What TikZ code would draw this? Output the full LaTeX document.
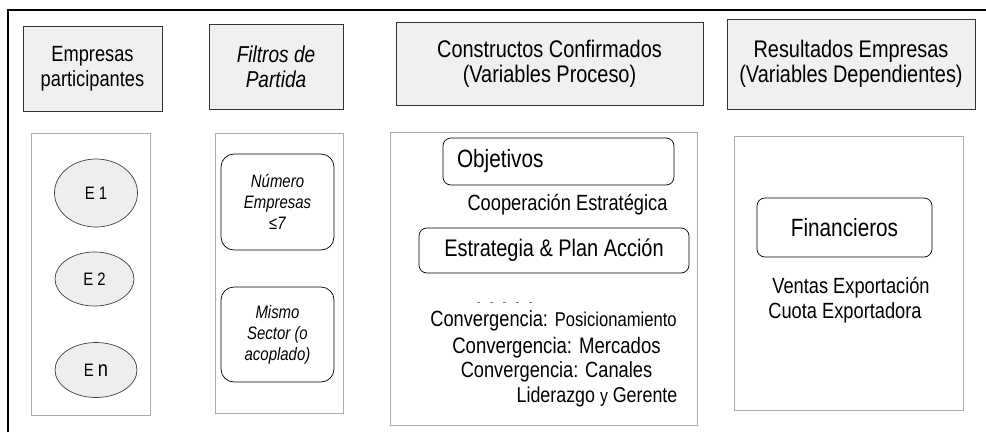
\documentclass[tikz,border=0pt]{standalone}
\usepackage{fontspec}
\setmainfont{Liberation Sans}[FakeStretch=0.83]
\usetikzlibrary{shapes.geometric}

\newcommand{\fsz}[2]{\fontsize{#1}{#2}\selectfont}

\tikzset{
  titlebox/.style={draw=black!80, fill=gray!12, line width=0.9pt, align=center, inner sep=0pt},
  panel/.style={draw=gray!65, line width=1pt, inner sep=0pt},
  firma/.style={ellipse, draw=black!75, fill=gray!13, line width=0.7pt, inner sep=0pt, font=\fsz{18}{20}},
  filtro/.style={draw=black, rounded corners=13pt, line width=0.7pt, align=center, inner sep=0pt, font=\itshape\fsz{18}{21}},
  bloque/.style={draw=black, rounded corners=8pt, line width=0.7pt, inner sep=0pt},
}

\begin{document}
\begin{tikzpicture}[x=1pt, y=-1pt]
    \useasboundingbox (0,0) rectangle (986,432);
    % marco
    \draw[line width=2.5pt] (8,432) -- (8,10) -- (986,10);
    % cabeceras
    \node[titlebox, minimum width=139pt, minimum height=85pt, font=\fsz{22}{25}] (tEmp) at (92.5,68.5) {Empresas\\participantes};
    \node[titlebox, minimum width=134pt, minimum height=85pt, font=\itshape\fsz{23}{25}] (tFil) at (276,66.5) {Filtros de\\Partida};
    \node[titlebox, minimum width=307pt, minimum height=83pt, font=\fsz{24}{25}] (tCon) at (549.5,63.5) {Constructos Confirmados\\(Variables Proceso)};
    \node[titlebox, minimum width=248pt, minimum height=90pt, font=\fsz{24}{25}] (tRes) at (851,64) {Resultados Empresas\\(Variables Dependientes)};
    % paneles
    \node[panel, minimum width=119pt, minimum height=282pt] (pEmp) at (90.5,274) {};
    \node[panel, minimum width=128pt, minimum height=280pt] (pFil) at (279,273) {};
    \node[panel, minimum width=307pt, minimum height=293pt] (pCon) at (543.5,278.5) {};
    \node[panel, minimum width=229pt, minimum height=274pt] (pRes) at (848.5,273) {};
    % empresas
    \node[firma, minimum width=83pt, minimum height=68pt] (e1) at (96,193) {E 1};
    \node[firma, minimum width=79pt, minimum height=54pt] (e2) at (94.5,279) {E 2};
    \node[firma, minimum width=82pt, minimum height=55pt] (en) at (96,370) {E {\fsz{22}{22}n}};
    % filtros
    \node[filtro, minimum width=113pt, minimum height=96pt] (fNum) at (277.5,202) {N\'umero\\Empresas\\≤7};
    \node[filtro, minimum width=113pt, minimum height=95pt] (fSec) at (277.5,334.5) {Mismo\\Sector (o\\acoplado)};
    % constructos
    \node[bloque, minimum height=47pt, text width=203pt, inner xsep=14pt, align=left, font=\fsz{25}{25}] (obj) at (558.5,161.5) {Objetivos};
    \node[font=\fsz{22}{22}] (coop) at (567.5,205) {Cooperaci\'on Estrat\'egica};
    \node[bloque, minimum width=270pt, minimum height=45pt, font=\fsz{24}{24}] (estr) at (554,250.5) {Estrategia \& Plan Acci\'on};
    \draw[gray, line width=0.6pt, dash pattern=on 3pt off 10pt] (477,302) -- (541,302);
    \node[font=\fsz{22}{22}] (cPos) at (553.5,321) {Convergencia: {\fsz{20}{20}Posicionamiento}};
    \node[font=\fsz{22.4}{22}] (cMer) at (556.5,348) {Convergencia: Mercados};
    \node[font=\fsz{22}{22}] (cCan) at (556.5,372) {Convergencia: Canales};
    \node[font=\fsz{21.5}{22}] (lid) at (597,397) {Liderazgo {\fsz{19}{19}y} Gerente};
    % resultados
    \node[bloque, minimum width=175pt, minimum height=59pt, font=\fsz{25}{25}] (fin) at (844.5,227.5) {Financieros};
    \node[font=\fsz{22}{22}] (vEx) at (851,288) {Ventas Exportaci\'on};
    \node[font=\fsz{22}{22}] (cuo) at (845,313) {Cuota Exportadora};
\end{tikzpicture}
\end{document}
